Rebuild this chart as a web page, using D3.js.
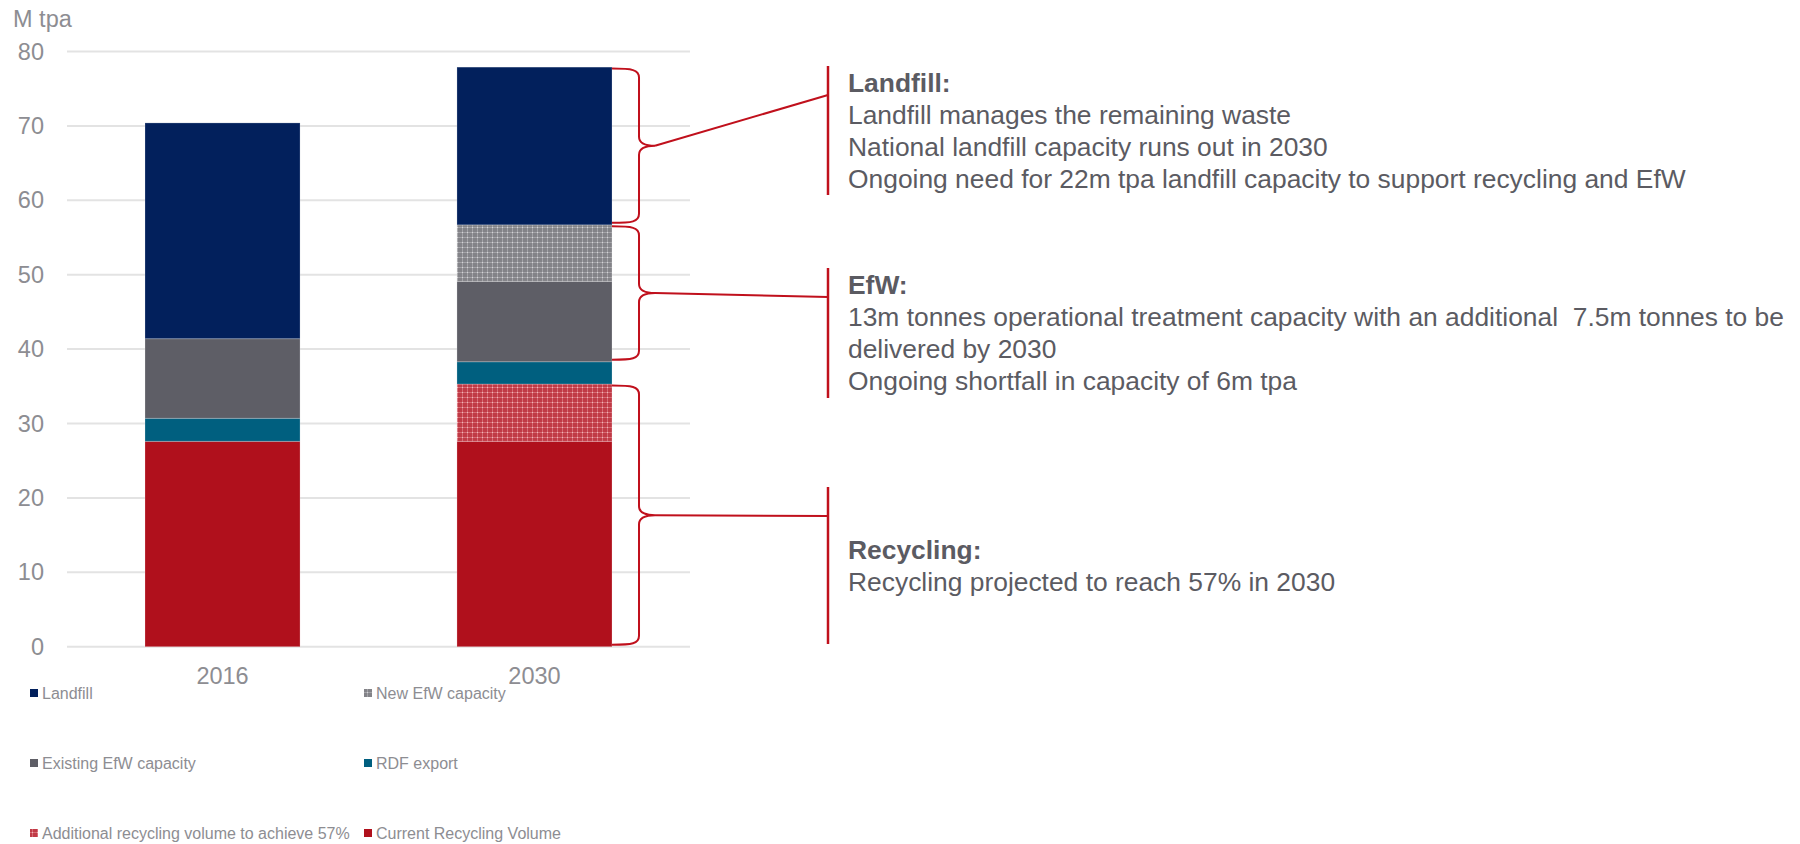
<!DOCTYPE html>
<html>
<head>
<meta charset="utf-8">
<script src="https://cdn.jsdelivr.net/npm/d3@7"></script>
<style>
  html, body { margin: 0; padding: 0; background: #ffffff; }
  svg { display: block; font-family: "Liberation Sans", Arial, sans-serif; }
</style>
</head>
<body>
<svg id="chart" width="1800" height="844"></svg>
<script>
// Waste management capacity, million tonnes per annum
const categories = ["2016", "2030"];

// Stack order, bottom to top
const seriesNames = [
  "Current Recycling Volume",
  "Additional recycling volume to achieve 57%",
  "RDF export",
  "Existing EfW capacity",
  "New EfW capacity",
  "Landfill"
];
const currentRecycling = [27.6, 27.6];
const additionalRecycling = [0, 7.7];
const rdfExport = [3.1, 3.0];
const existingEfW = [10.7, 10.8];
const newEfW = [0, 7.6];
const landfill = [29.0, 21.2];

const yTicks = [0, 10, 20, 30, 40, 50, 60, 70, 80];
const yUnit = "M tpa";

// Legend reads top of stack first, two per row
const legendOrder = [
  "Landfill", "New EfW capacity",
  "Existing EfW capacity", "RDF export",
  "Additional recycling volume to achieve 57%", "Current Recycling Volume"
];

// Callout notes for the 2030 stack
const noteTitles = ["Landfill:", "EfW:", "Recycling:"];
const noteLines = [
  ["Landfill manages the remaining waste",
   "National landfill capacity runs out in 2030",
   "Ongoing need for 22m tpa landfill capacity to support recycling and EfW"],
  ["13m tonnes operational treatment capacity with an additional  7.5m tonnes to be",
   "delivered by 2030",
   "Ongoing shortfall in capacity of 6m tpa"],
  ["Recycling projected to reach 57% in 2030"]
];
const noteGroups = [
  ["Landfill"],
  ["New EfW capacity", "Existing EfW capacity"],
  ["Current Recycling Volume", "Additional recycling volume to achieve 57%"]
];

// ---------------------------------------------------------------
const valuesBySeries = {
  "Current Recycling Volume": currentRecycling,
  "Additional recycling volume to achieve 57%": additionalRecycling,
  "RDF export": rdfExport,
  "Existing EfW capacity": existingEfW,
  "New EfW capacity": newEfW,
  "Landfill": landfill
};
const rows = categories.map((c, i) => {
  const r = { category: c };
  seriesNames.forEach(s => { r[s] = valuesBySeries[s][i]; });
  return r;
});

const fills = {
  "Landfill": "#02205c",
  "New EfW capacity": "url(#patGrey)",
  "Existing EfW capacity": "#5e5e66",
  "RDF export": "#005f7f",
  "Additional recycling volume to achieve 57%": "url(#patRed)",
  "Current Recycling Volume": "#b0101c"
};

const svg = d3.select("#chart");
const defs = svg.append("defs");

function gridPattern(id, base, line, dot) {
  const p = defs.append("pattern")
    .attr("id", id).attr("patternUnits", "userSpaceOnUse")
    .attr("width", 5).attr("height", 5);
  p.append("rect").attr("width", 5).attr("height", 5).attr("fill", base);
  p.append("rect").attr("x", 0).attr("y", 2).attr("width", 5).attr("height", 1).attr("fill", line);
  p.append("rect").attr("x", 2).attr("y", 0).attr("width", 1).attr("height", 5).attr("fill", line);
  p.append("rect").attr("x", 2).attr("y", 2).attr("width", 1).attr("height", 1).attr("fill", dot);
}
gridPattern("patGrey", "#838388", "#a3a3a7", "#d4d4d8");
gridPattern("patRed", "#c03a46", "#d66a73", "#efb6ba");

const plotLeft = 67, plotRight = 690;
const y = d3.scaleLinear().domain([0, 80]).range([646.7, 51.5]);
const x = d3.scaleBand().domain(categories).range([plotLeft, plotRight])
  .paddingInner(0.503).paddingOuter(0.25);

const axisGrey = "#8d8d92";

// Gridlines
svg.append("g").selectAll("line").data(yTicks).join("line")
  .attr("x1", plotLeft).attr("x2", plotRight)
  .attr("y1", d => y(d)).attr("y2", d => y(d))
  .attr("stroke", "#e3e3e3").attr("stroke-width", 2);

// Y axis labels
const yAxis = svg.append("g").attr("transform", "translate(44,0)")
  .call(d3.axisLeft(y).tickValues(yTicks).tickSize(0).tickPadding(0));
yAxis.select(".domain").remove();
yAxis.selectAll("text").attr("fill", axisGrey)
  .style("font-size", "23.5px").style("font-family", "'Liberation Sans', Arial, sans-serif");

svg.append("text").attr("x", 13).attr("y", 27).text(yUnit)
  .attr("fill", axisGrey).style("font-size", "23.5px");

// X axis labels
const xAxis = svg.append("g").attr("transform", `translate(0,${y(0)})`)
  .call(d3.axisBottom(x).tickSize(0).tickPadding(21));
xAxis.select(".domain").remove();
xAxis.selectAll("text").attr("fill", axisGrey)
  .style("font-size", "23.5px").style("font-family", "'Liberation Sans', Arial, sans-serif");

// Stacked bars
const stack = d3.stack().keys(seriesNames)(rows);
svg.append("g").selectAll("g").data(stack).join("g")
  .attr("fill", d => fills[d.key])
  .selectAll("rect").data(d => d.filter(p => p[1] > p[0])).join("rect")
  .attr("x", d => x(d.data.category))
  .attr("width", x.bandwidth())
  .attr("y", d => y(d[1]))
  .attr("height", d => y(d[0]) - y(d[1]))
  .attr("stroke", "rgba(255,255,255,0.22)").attr("stroke-width", 1);

// Legend
const legend = svg.append("g").style("font-size", "16px");
legendOrder.forEach((name, i) => {
  const col = i % 2, row = Math.floor(i / 2);
  const lx = col === 0 ? 30 : 364;
  const cy = 693 + row * 70;
  legend.append("rect").attr("x", lx).attr("y", cy - 4).attr("width", 8).attr("height", 8)
    .attr("fill", fills[name]);
  legend.append("text").attr("x", lx + 12).attr("y", cy + 5.5)
    .attr("fill", axisGrey).text(name);
});

// Braces beside the 2030 stack with callout notes
const red = "#c0101c";
const noteBars = [[66, 195], [268, 398], [487, 644]];
const last = categories[categories.length - 1];
const barRight = x(last) + x.bandwidth();
const braceX = barRight + 27, tipX = barRight + 43;
const textBarX = 828, textX = 848;
const lineH = 32;

noteGroups.forEach((keys, gi) => {
  const layers = stack.filter(s => keys.includes(s.key));
  const idx = categories.indexOf(last);
  const lo = d3.min(layers, s => s[idx][0]);
  const hi = d3.max(layers, s => s[idx][1]);
  const y0 = y(hi) + 1.5, y1 = y(lo) - 2;
  const ym = (y0 + y1) / 2;
  const r = 9;
  const p = d3.path();
  p.moveTo(barRight, y0);
  p.bezierCurveTo(barRight + 20, y0, braceX, y0 + 1, braceX, y0 + r);
  p.lineTo(braceX, ym - r);
  p.bezierCurveTo(braceX, ym - 2, braceX + 6, ym, tipX, ym);
  p.moveTo(tipX, ym);
  p.bezierCurveTo(braceX + 6, ym, braceX, ym + 2, braceX, ym + r);
  p.lineTo(braceX, y1 - r);
  p.bezierCurveTo(braceX, y1 - 1, barRight + 20, y1, barRight, y1);
  svg.append("path").attr("d", p.toString()).attr("fill", "none")
    .attr("stroke", red).attr("stroke-width", 2);

  const [bt, bb] = noteBars[gi];
  svg.append("line").attr("x1", textBarX).attr("x2", textBarX)
    .attr("y1", bt).attr("y2", bb).attr("stroke", red).attr("stroke-width", 2.5);
  svg.append("line").attr("x1", tipX).attr("y1", ym)
    .attr("x2", textBarX).attr("y2", bt + 29)
    .attr("stroke", red).attr("stroke-width", 2);

  const all = [noteTitles[gi]].concat(noteLines[gi]);
  const mid = (bt + bb) / 2;
  const firstBase = mid - (all.length - 1) * lineH / 2 + 9;
  const t = svg.append("text").attr("fill", "#5b5b62").style("font-size", "26.4px");
  all.forEach((s, li) => {
    t.append("tspan").attr("x", textX).attr("y", firstBase + li * lineH)
      .attr("font-weight", li === 0 ? "bold" : null)
      .style("white-space", "pre")
      .text(s);
  });
});
</script>
</body>
</html>
